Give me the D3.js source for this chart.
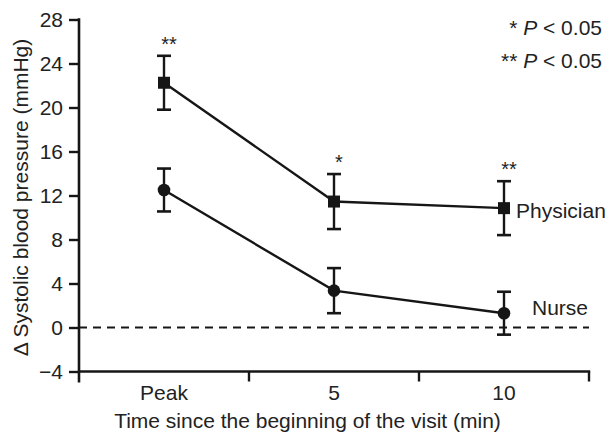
<!DOCTYPE html>
<html>
<head>
<meta charset="utf-8">
<script src="https://cdn.jsdelivr.net/npm/d3@7"></script>
<style>
  body { margin: 0; background: #fff; }
  svg { font-family: "Liberation Sans", Arial, sans-serif; }
</style>
</head>
<body>
<svg id="svg" width="612" height="438"></svg>
<script>
// values
const categories = ['Peak', '5', '10'];
const physician = [22.25, 11.45, 10.85];
const physicianErr = [2.45, 2.5, 2.45];
const nurse = [12.5, 3.35, 1.3];
const nurseErr = [1.95, 2.05, 1.95];
const stars = ['**', '*', '**'];
const yTicks = [-4, 0, 4, 8, 12, 16, 20, 24, 28];

const svg = d3.select('#svg');
const ink = '#161616';
const txt = '#222';
const fs = '21px';
const sw = 2.4;
const padLeft = 79, padRight = 589, padTop = 19.5, padBottom = 371.5;

const x = d3.scaleBand().domain(categories).range([padLeft, padRight]);
const y = d3.scaleLinear().domain([-4, 28]).range([padBottom, padTop]);

// y axis
const yAxis = svg.append('g')
  .attr('transform', 'translate(' + padLeft + ',0)')
  .call(d3.axisLeft(y).tickValues(yTicks).tickSize(10).tickPadding(6)
    .tickFormat(d => d < 0 ? '\u2212' + Math.abs(d) : d));
yAxis.select('.domain').remove();
yAxis.selectAll('line').attr('stroke', ink).attr('stroke-width', sw);
yAxis.selectAll('text').attr('fill', txt).style('font-size', fs);
svg.append('line')
  .attr('x1', padLeft).attr('x2', padLeft)
  .attr('y1', y(28) - 1.2).attr('y2', padBottom + 11)
  .attr('stroke', ink).attr('stroke-width', sw + 0.2);

// x axis, ticks at band edges
svg.append('line')
  .attr('x1', padLeft).attr('x2', padRight + 1.2)
  .attr('y1', padBottom).attr('y2', padBottom)
  .attr('stroke', ink).attr('stroke-width', sw + 0.2);
svg.selectAll('.xtick')
  .data(categories)
  .enter()
  .append('line')
  .attr('x1', d => x(d) + x.bandwidth())
  .attr('x2', d => x(d) + x.bandwidth())
  .attr('y1', padBottom).attr('y2', padBottom + 10)
  .attr('stroke', ink).attr('stroke-width', sw);
svg.selectAll('.xlabel')
  .data(categories)
  .enter()
  .append('text')
  .attr('x', d => x(d) + x.bandwidth() / 2)
  .attr('y', 400)
  .attr('text-anchor', 'middle')
  .attr('fill', txt)
  .style('font-size', fs)
  .text(d => d);

svg.append('text')
  .attr('x', 307.5).attr('y', 428)
  .attr('text-anchor', 'middle').attr('fill', txt)
  .style('font-size', fs)
  .text('Time since the beginning of the visit (min)');

svg.append('text')
  .attr('transform', 'translate(28,197.5) rotate(-90)')
  .attr('text-anchor', 'middle').attr('fill', txt)
  .style('font-size', fs)
  .text('\u0394 Systolic blood pressure (mmHg)');

// zero line
svg.append('line')
  .attr('x1', padLeft).attr('x2', padRight)
  .attr('y1', y(0)).attr('y2', y(0))
  .attr('stroke', ink).attr('stroke-width', sw - 0.2)
  .attr('stroke-dasharray', '8,6');

const cx = d => x(d) + x.bandwidth() / 2;

function drawSeries(vals, errs, shape) {
  const pts = categories.map((c, i) => ({ c: c, v: vals[i], e: errs[i] }));
  const g = svg.append('g');
  g.append('path')
    .datum(pts)
    .attr('fill', 'none').attr('stroke', ink).attr('stroke-width', sw)
    .attr('d', d3.line().x(d => cx(d.c)).y(d => y(d.v)));
  const eb = g.selectAll('.eb').data(pts).enter().append('g');
  eb.append('line')
    .attr('x1', d => cx(d.c)).attr('x2', d => cx(d.c))
    .attr('y1', d => y(d.v + d.e)).attr('y2', d => y(d.v - d.e))
    .attr('stroke', ink).attr('stroke-width', sw);
  [1, -1].forEach(s => {
    eb.append('line')
      .attr('x1', d => cx(d.c) - 7).attr('x2', d => cx(d.c) + 7)
      .attr('y1', d => y(d.v + s * d.e)).attr('y2', d => y(d.v + s * d.e))
      .attr('stroke', ink).attr('stroke-width', sw + 0.2);
  });
  if (shape === 'square') {
    g.selectAll('.m').data(pts).enter().append('rect')
      .attr('x', d => cx(d.c) - 6).attr('y', d => y(d.v) - 6)
      .attr('width', 12).attr('height', 12).attr('fill', ink);
  } else {
    g.selectAll('.m').data(pts).enter().append('circle')
      .attr('cx', d => cx(d.c)).attr('cy', d => y(d.v))
      .attr('r', 6.3).attr('fill', ink);
  }
  return pts;
}

const phys = drawSeries(physician, physicianErr, 'square');
drawSeries(nurse, nurseErr, 'circle');

// significance stars above physician bars
svg.selectAll('.star')
  .data(phys)
  .enter()
  .append('text')
  .attr('x', d => cx(d.c) + 5)
  .attr('y', d => y(d.v + d.e) - 5)
  .attr('text-anchor', 'middle').attr('fill', txt)
  .style('font-size', '20px')
  .text((d, i) => stars[i]);

svg.append('text')
  .attr('x', 516).attr('y', y(physician[2]) + 9.5)
  .attr('fill', txt).style('font-size', fs)
  .text('Physician');
svg.append('text')
  .attr('x', 532).attr('y', 315)
  .attr('fill', txt).style('font-size', fs)
  .text('Nurse');

// note in corner
const note = svg.append('g').attr('text-anchor', 'end').attr('fill', txt).style('font-size', fs);
[['* ', 35], ['** ', 68]].forEach(n => {
  const t = note.append('text').attr('x', 602).attr('y', n[1]);
  t.append('tspan').text(n[0]);
  t.append('tspan').style('font-style', 'italic').text('P');
  t.append('tspan').text(' < 0.05');
});
</script>
</body>
</html>
